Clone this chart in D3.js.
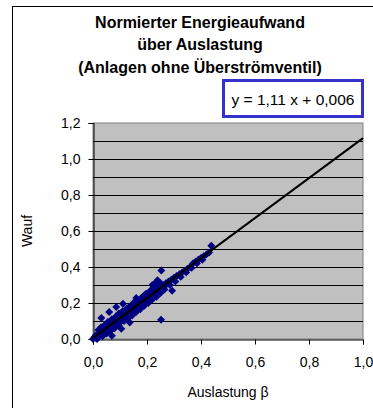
<!DOCTYPE html>
<html>
<head>
<meta charset="utf-8">
<script src="https://cdn.jsdelivr.net/npm/d3@7/dist/d3.min.js"></script>
<style>
  html, body { margin: 0; padding: 0; background: #fff; }
  svg { display: block; font-family: "Liberation Sans", Arial, sans-serif; }
</style>
</head>
<body>
<svg id="chart" width="373" height="408"></svg>
<script>
// Title lines
const titleLines = ["Normierter Energieaufwand", "über Auslastung", "(Anlagen ohne Überströmventil)"];

// Axis tick values and labels
const xTicks = [0, 0.2, 0.4, 0.6, 0.8, 1.0];
const yTicks = [0, 0.2, 0.4, 0.6, 0.8, 1.0, 1.2];
const yGrid = [0.1, 0.2, 0.3, 0.4, 0.5, 0.6, 0.7, 0.8, 0.9, 1.0, 1.1];

// Measured plants: load factor β and normalised energy Wauf
const betaValues = [
  0.000, 0.005, 0.010, 0.010, 0.015, 0.020, 0.020, 0.025, 0.030, 0.030,
  0.035, 0.040, 0.040, 0.045, 0.050, 0.050, 0.055, 0.060, 0.060, 0.065,
  0.070, 0.070, 0.075, 0.080, 0.080, 0.085, 0.090, 0.090, 0.095, 0.100,
  0.100, 0.100, 0.105, 0.110, 0.110, 0.115, 0.120, 0.120, 0.120, 0.125,
  0.130, 0.130, 0.135, 0.140, 0.140, 0.145, 0.150, 0.150, 0.155, 0.160,
  0.160, 0.165, 0.170, 0.170, 0.175, 0.180, 0.180, 0.185, 0.190, 0.190,
  0.195, 0.200, 0.200, 0.205, 0.210, 0.210, 0.215, 0.220, 0.220, 0.225,
  0.230, 0.230, 0.235, 0.240, 0.240, 0.245, 0.250, 0.250, 0.255, 0.260,
  0.260, 0.270, 0.270, 0.280, 0.290, 0.300, 0.310, 0.320, 0.330, 0.340,
  0.350, 0.360, 0.370, 0.380, 0.390, 0.400, 0.410, 0.420, 0.430, 0.438,
  0.230, 0.220, 0.150, 0.180, 0.200, 0.012, 0.028, 0.046, 0.064, 0.082,
  0.253, 0.252, 0.293, 0.070, 0.031, 0.060, 0.105, 0.136, 0.086, 0.111,
  0.160, 0.239, 0.035, 0.052, 0.098, 0.128, 0.146, 0.168,
  0.020, 0.030, 0.045, 0.055, 0.070, 0.085, 0.095, 0.110, 0.125, 0.135,
  0.150, 0.165, 0.180, 0.195, 0.210, 0.225, 0.015, 0.035, 0.050, 0.065,
  0.080, 0.095, 0.115, 0.130, 0.145, 0.160, 0.175, 0.190, 0.205, 0.220,
  0.235, 0.250, 0.265, 0.285, 0.305, 0.325, 0.345, 0.365, 0.385, 0.405
];
const waufValues = [
  0.000, 0.010, 0.010, 0.020, 0.020, 0.020, 0.030, 0.030, 0.030, 0.040,
  0.050, 0.040, 0.060, 0.050, 0.050, 0.070, 0.060, 0.070, 0.050, 0.080,
  0.070, 0.090, 0.080, 0.090, 0.110, 0.100, 0.100, 0.120, 0.110, 0.110,
  0.130, 0.090, 0.120, 0.120, 0.140, 0.130, 0.130, 0.150, 0.110, 0.140,
  0.150, 0.130, 0.160, 0.160, 0.140, 0.170, 0.170, 0.190, 0.180, 0.180,
  0.200, 0.190, 0.190, 0.210, 0.200, 0.200, 0.220, 0.210, 0.220, 0.240,
  0.230, 0.230, 0.250, 0.240, 0.240, 0.260, 0.250, 0.250, 0.270, 0.260,
  0.260, 0.280, 0.270, 0.280, 0.300, 0.290, 0.290, 0.310, 0.300, 0.300,
  0.290, 0.310, 0.300, 0.320, 0.330, 0.340, 0.350, 0.360, 0.370, 0.380,
  0.390, 0.400, 0.420, 0.430, 0.440, 0.450, 0.460, 0.470, 0.480, 0.518,
  0.310, 0.300, 0.150, 0.180, 0.210, 0.005, 0.040, 0.035, 0.090, 0.075,
  0.381, 0.107, 0.268, 0.018, 0.117, 0.150, 0.057, 0.092, 0.178, 0.196,
  0.228, 0.326, 0.025, 0.080, 0.140, 0.120, 0.185, 0.165,
  0.050, 0.065, 0.080, 0.095, 0.110, 0.125, 0.140, 0.155, 0.170, 0.180,
  0.200, 0.215, 0.230, 0.250, 0.265, 0.285, 0.000, 0.015, 0.030, 0.045,
  0.060, 0.075, 0.100, 0.115, 0.130, 0.150, 0.165, 0.185, 0.200, 0.220,
  0.235, 0.255, 0.275, 0.300, 0.320, 0.345, 0.370, 0.395, 0.420, 0.440
];

// Linear fit y = 1,11 x + 0,006
const fitSlope = 1.11;
const fitIntercept = 0.006;
const fitLabel = "y = 1,11 x + 0,006";

const xTitle = "Auslastung β";
const yTitle = "Wauf";

const fmt = d => d3.format(".1f")(d).replace(".", ",");

const svg = d3.select("#chart");
const plotL = 93, plotR = 363, plotT = 123, plotB = 339;

const x = d3.scaleLinear().domain([0, 1.0]).range([plotL, plotR]);
const y = d3.scaleLinear().domain([0, 1.2]).range([plotB, plotT]);

// Outer chart frame
svg.append("rect")
  .attr("x", 12.5).attr("y", 6.5).attr("width", 380).attr("height", 420)
  .attr("fill", "#fff").attr("stroke", "#000").attr("stroke-width", 1);

// Title
svg.append("text")
  .attr("text-anchor", "middle")
  .attr("font-size", 16).attr("font-weight", "bold").attr("fill", "#000")
  .selectAll("tspan").data(titleLines).join("tspan")
  .attr("x", 200).attr("y", (d, i) => 28 + i * 22.3).text(d => d);

// Plot area
svg.append("rect")
  .attr("x", plotL).attr("y", plotT).attr("width", plotR - plotL).attr("height", plotB - plotT)
  .attr("fill", "#c0c0c0").attr("stroke", "#808080").attr("stroke-width", 1);

// Horizontal gridlines
svg.append("g").selectAll("line").data(yGrid).join("line")
  .attr("x1", plotL).attr("x2", plotR)
  .attr("y1", d => Math.round(y(d)) + 0.5).attr("y2", d => Math.round(y(d)) + 0.5)
  .attr("stroke", "#000").attr("stroke-width", 1);

// Axes
const yAxis = svg.append("g").attr("transform", `translate(${plotL + 0.5},0)`)
  .call(d3.axisLeft(y).tickValues(yTicks).tickFormat(fmt).tickSize(5).tickPadding(8));
const xAxis = svg.append("g").attr("transform", `translate(0,${plotB + 0.5})`)
  .call(d3.axisBottom(x).tickValues(xTicks).tickFormat(fmt).tickSize(5).tickPadding(13));
[yAxis, xAxis].forEach(g => {
  g.select(".domain").attr("stroke", "#000");
  g.selectAll(".tick line").attr("stroke", "#000");
  g.selectAll(".tick text").attr("font-size", 14).attr("fill", "#000")
    .attr("font-family", "'Liberation Sans', Arial, sans-serif");
});

// Scatter points (diamonds)
const pts = betaValues.map((b, i) => [b, waufValues[i]]);
const diamond = d3.symbol().type(d3.symbolDiamond2).size(40);
svg.append("g").selectAll("path").data(pts).join("path")
  .attr("d", diamond)
  .attr("transform", d => `translate(${x(d[0])},${y(d[1])})`)
  .attr("fill", "#000080");

// Trend line
svg.append("line")
  .attr("x1", x(0)).attr("y1", y(fitIntercept))
  .attr("x2", x(1.0)).attr("y2", y(fitSlope * 1.0 + fitIntercept))
  .attr("stroke", "#000").attr("stroke-width", 2);

// Equation box
svg.append("rect")
  .attr("x", 223.5).attr("y", 80.5).attr("width", 139).attr("height", 36)
  .attr("fill", "#fff").attr("stroke", "#3333cc").attr("stroke-width", 3);
svg.append("text")
  .attr("x", 293).attr("y", 105).attr("text-anchor", "middle")
  .attr("font-size", 15.5).attr("fill", "#000").text(fitLabel);

// Axis titles
svg.append("text")
  .attr("x", x(0.5)).attr("y", 397).attr("text-anchor", "middle")
  .attr("font-size", 14).attr("fill", "#000").text(xTitle);
svg.append("text")
  .attr("transform", `translate(32,${(plotT + plotB) / 2}) rotate(-90)`)
  .attr("text-anchor", "middle")
  .attr("font-size", 14).attr("fill", "#000").text(yTitle);
</script>
</body>
</html>
